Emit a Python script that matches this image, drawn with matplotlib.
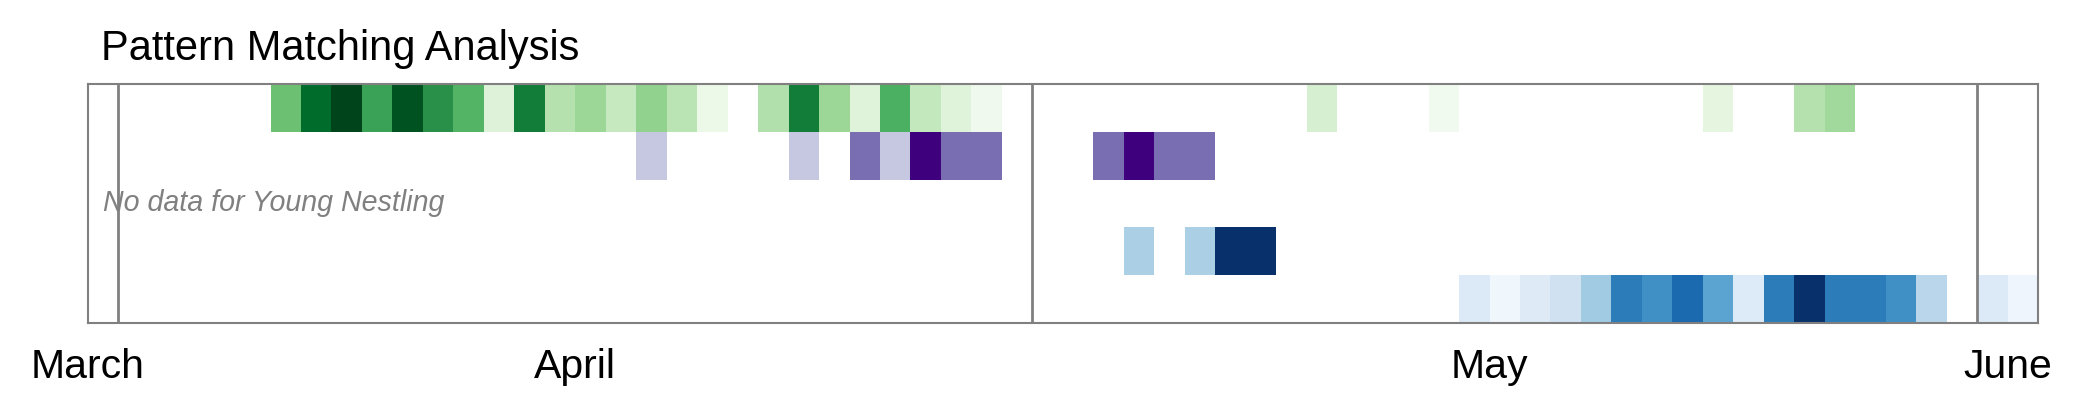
import matplotlib.pyplot as plt
import numpy as np

plt.rcParams["font.family"] = ["Liberation Sans", "DejaVu Sans"]

# day 0 = March 31, one cell per day
n_days = 64
month_names = ["March", "April", "May", "June"]
month_label_pos = [0, 16, 46, 63]
month_starts = [1, 31, 62]

row_cmaps = ["Greens", "Purples", None, "Blues", "Blues"]
empty_stage = "Young Nestling"

row0_days = [6, 7, 8, 9, 10, 11, 12, 13, 14, 15, 16, 17, 18, 19, 20,
             22, 23, 24, 25, 26, 27, 28, 29, 40, 44, 53, 56, 57]
row0_vals = [0.52, 0.875, 1.0, 0.66, 0.95, 0.73, 0.58, 0.16, 0.81, 0.31, 0.39, 0.25, 0.42, 0.29, 0.08,
             0.32, 0.81, 0.39, 0.15, 0.60, 0.26, 0.15, 0.05, 0.19, 0.045, 0.125, 0.31, 0.375]

row1_days = [18, 23, 25, 26, 27, 28, 29, 33, 34, 35, 36]
row1_vals = [1 / 3, 1 / 3, 2 / 3, 1 / 3, 1.0, 2 / 3, 2 / 3, 2 / 3, 1.0, 2 / 3, 2 / 3]

row3_days = [34, 36, 37, 38]
row3_vals = [1 / 3, 1 / 3, 1.0, 1.0]

row4_days = [45, 46, 47, 48, 49, 50, 51, 52, 53, 54, 55, 56, 57, 58, 59, 60, 62, 63]
row4_vals = [0.14, 0.04, 0.125, 0.2, 0.37, 0.71, 0.63, 0.78, 0.55, 0.13,
             0.71, 1.0, 0.71, 0.71, 0.63, 0.29, 0.14, 0.045]

rows = [(row0_days, row0_vals), (row1_days, row1_vals), None,
        (row3_days, row3_vals), (row4_days, row4_vals)]

fig = plt.figure(figsize=(20.82, 4.17), dpi=100)
ax = fig.add_axes([0.0421, 0.2254, 0.9368, 0.5732])

x_edges = np.arange(n_days + 1)
for r, row in enumerate(rows):
    if row is None:
        ax.text(0.5, r + 0.5, f"No data for {empty_stage}", fontsize=20.6,
                style="italic", color="gray", va="center", ha="left")
        continue
    days, vals = row
    arr = np.full(n_days, np.nan)
    arr[days] = vals
    ax.pcolormesh(x_edges, [r, r + 1], np.ma.masked_invalid(arr)[None, :],
                  cmap=row_cmaps[r], vmin=0, vmax=1)

for x in month_starts:
    ax.axvline(x, color="gray", lw=2)

ax.set_xlim(0, n_days)
ax.set_ylim(len(rows), 0)
ax.set_yticks([])
ax.set_xticks(month_label_pos)
ax.set_xticklabels(month_names, fontsize=29.5)
ax.tick_params(axis="x", length=0, pad=18)
for s in ax.spines.values():
    s.set_color("gray")
    s.set_linewidth(1.5)

ax.text(0.007, 1.1, "Pattern Matching Analysis", transform=ax.transAxes,
        fontsize=30, va="baseline", ha="left")

fig.savefig("out.png", dpi=100)
